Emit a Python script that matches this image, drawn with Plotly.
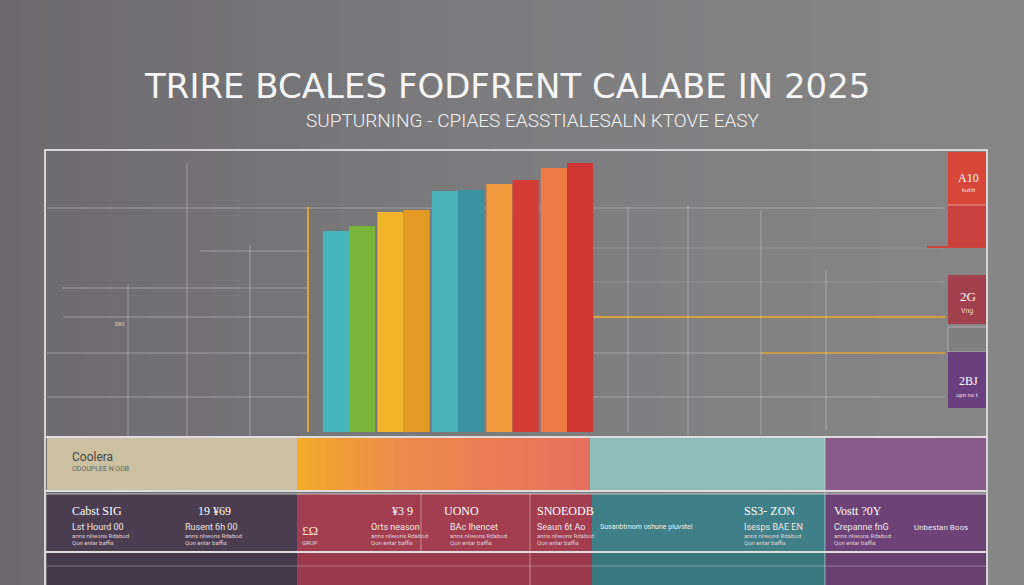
import plotly.graph_objects as go

W, H = 1024, 585

# ---------------- data ----------------
categories = ["2021", "2022", "2023", "2024", "2025"]
left_values = [20.1, 22.0, 24.1, 24.8, 26.4]
right_values = [20.6, 22.2, 24.2, 25.2, 26.9]
left_colors = ["#45b5bb", "#f1b42a", "#49b2b9", "#f1983c", "#ee7a45"]
right_colors = ["#79b53a", "#e39a22", "#3a93a0", "#d23c35", "#cf3532"]

title_text = "TRIRE BCALES FODFRENT CALABE IN 2025"
subtitle_text = "SUPTURNING - CPIAES EASSTIALESALN KTOVE EASY"

side_labels = ["A10", "2G", "2BJ"]
side_sublabels = ["kutiit", "Vng", "upn no t"]

row1_label = "Coolera"
row1_sub = "ODOUPLEE N ODB"
row2_heads = ["Cabst SIG", "19 ¥69", "¥3 9", "UONO", "SNOEODB", "SS3- ZON", "Vostt ?0Y"]
row2_subs = ["Lst Hourd 00", "Rusent 6h 00", "Orts neason", "BAc Ihencet",
             "Seaun 6t Ao", "Isesps BAE EN", "Crepanne fnG"]


def X(p):
    return p / W


def Y(p):
    return 1 - p / H


def hex2rgb(h):
    h = h.lstrip("#")
    return tuple(int(h[i:i + 2], 16) for i in (0, 2, 4))


def lerp(c1, c2, t):
    a, b = hex2rgb(c1), hex2rgb(c2)
    return "rgb(%d,%d,%d)" % tuple(round(a[i] + (b[i] - a[i]) * t) for i in range(3))


shapes = []


def rect(x0, y0, x1, y1, color, line_color=None, lw=0, layer="below"):
    shapes.append(dict(type="rect", xref="paper", yref="paper",
                       x0=X(x0), x1=X(x1), y0=Y(y1), y1=Y(y0),
                       fillcolor=color, layer=layer,
                       line=dict(width=lw, color=line_color or color)))


def hline(y, x0, x1, color, w=1, layer="below"):
    shapes.append(dict(type="line", xref="paper", yref="paper",
                       x0=X(x0), x1=X(x1), y0=Y(y), y1=Y(y), layer=layer,
                       line=dict(color=color, width=w)))


def vline(x, y0, y1, color, w=1, layer="below"):
    shapes.append(dict(type="line", xref="paper", yref="paper",
                       x0=X(x), x1=X(x), y0=Y(y0), y1=Y(y1), layer=layer,
                       line=dict(color=color, width=w)))


# background gradient (strips)
n = 48
for i in range(n):
    t = i / (n - 1)
    if t < 0.5:
        c = lerp("#6c6a6e", "#7d7d7f", t / 0.5)
    else:
        c = lerp("#7d7d7f", "#868686", (t - 0.5) / 0.5)
    rect(i * W / n, 0, (i + 1) * W / n + 1, H, c)

grid = "rgba(225,225,225,0.4)"
orange_line = "#d8a23a"

# horizontal grid
hline(208, 47, 945, grid)
hline(251, 200, 307, grid)
hline(288, 62, 307, grid)
hline(317, 63, 307, grid)
hline(353, 47, 307, grid)
hline(397, 47, 307, grid)
hline(248, 590, 945, "rgba(225,225,225,0.18)")
hline(282, 590, 945, "rgba(225,225,225,0.18)")
hline(353, 590, 761, grid)
hline(397, 590, 945, grid)
hline(317, 590, 945, orange_line, 2)
hline(353, 761, 945, "#c79a4a", 2)
hline(247, 927, 987, "#d0453a", 2)
# vertical grid
vline(128, 284, 437, grid)
vline(187, 163, 437, grid)
vline(250, 245, 437, grid)
vline(308, 207, 432, orange_line, 2)
vline(628, 207, 432, grid)
vline(688, 205, 435, grid)
vline(761, 210, 435, grid)
vline(826, 270, 430, grid)

# right side boxes
rect(948, 152, 987, 205, "#d8463a")
rect(948, 205, 987, 247, "#c9403c")
hline(205, 948, 987, "rgba(255,220,210,0.6)", 1)
rect(948, 275, 987, 324, "#a3404e")
rect(948, 327, 987, 352, "#7f7f80", "rgba(220,220,220,0.5)", 1)
rect(948, 352, 987, 408, "#6a3f80")

# ---------------- table ----------------
rect(47, 437, 297, 490, "#cbc1a2")
m = 30
for i in range(m):
    t = i / (m - 1)
    c = lerp("#f2aa2a", "#ee8a4c", t / 0.35) if t < 0.35 else lerp("#ee8a4c", "#e7705f", (t - 0.35) / 0.65)
    x0 = 297 + (590 - 297) * i / m
    rect(x0, 437, x0 + (590 - 297) / m + 1, 490, c)
rect(590, 437, 825, 490, "#8dbdb8")
rect(825, 437, 987, 490, "#8a5a8c")

rect(47, 494, 297, 552, "#4b3c4f")
rect(297, 494, 592, 552, "#a23e50")
rect(592, 494, 825, 552, "#3f8088")
rect(825, 494, 987, 552, "#6d4277")

rect(47, 553, 297, 585, "#45384a")
rect(297, 553, 592, 585, "#9a3a4c")
rect(592, 553, 825, 585, "#3a7880")
rect(825, 553, 987, 585, "#67406f")

line_c = "#dedcdc"
hline(437, 45, 987, line_c, 2)
hline(491, 45, 987, line_c, 2)
hline(494, 45, 987, "rgba(230,230,230,0.7)", 1)
hline(552, 45, 987, line_c, 2)
hline(566, 47, 987, "rgba(230,230,230,0.35)", 1)
vline(421, 494, 552, "rgba(240,200,200,0.55)", 1)
vline(530, 494, 585, "rgba(240,200,200,0.55)", 1)
vline(825, 437, 585, "rgba(230,220,230,0.6)", 1)

# frame
hline(150, 45, 987, "#d6d4d6", 2)
vline(45, 149, 585, "#d6d4d6", 2)
vline(987, 149, 585, "#d6d4d6", 2)

# ---------------- bars ----------------
fig = go.Figure()
fig.add_trace(go.Bar(x=categories, y=left_values, marker=dict(color=left_colors, line=dict(width=0)),
                     showlegend=False, hoverinfo="skip"))
fig.add_trace(go.Bar(x=categories, y=right_values, marker=dict(color=right_colors, line=dict(width=0)),
                     showlegend=False, hoverinfo="skip"))

ann = []


def text(x, y, s, size, color="#ffffff", family="Roboto", anchor="left", weight=None):
    f = dict(size=size, color=color, family=family)
    if weight:
        f["weight"] = weight
    ann.append(dict(x=X(x), y=Y(y), xref="paper", yref="paper", text=s, showarrow=False,
                    xanchor=anchor, yanchor="middle", font=f))


text(507, 86, title_text, 34, "#f6f6f6", "DejaVu Sans", "center")
text(533, 121, subtitle_text, 19, "#f2f2f2", "Roboto", "center", 300)

# side box labels
text(968, 178, side_labels[0], 12, "#ffffff", "Liberation Serif", "center")
text(968, 190, side_sublabels[0], 6, "#f5dcd8", "Roboto", "center")
text(968, 296, side_labels[1], 13, "#ffffff", "Liberation Serif", "center")
text(967, 311, side_sublabels[1], 7, "#f0d8dc", "Roboto", "center")
text(968, 381, side_labels[2], 12, "#ffffff", "Liberation Serif", "center")
text(967, 394, side_sublabels[2], 6, "#e8dcf0", "Roboto", "center")
text(113, 323, "DKI", 6, "#dddddd")

# table texts
text(70, 457, row1_label, 12, "#4a4644", "Roboto")
text(70, 469, row1_sub, 7, "#6a655c", "Roboto")

head_x = [70, 196, 390, 442, 535, 742, 832]
for hx, s in zip(head_x, row2_heads):
    text(hx, 511, s, 12, "#ffffff", "Liberation Serif")
sub_x = [70, 183, 369, 448, 535, 742, 832]
for sx, s in zip(sub_x, row2_subs):
    text(sx, 527, s, 9, "#f0e6ea", "Roboto")
    text(sx, 535, "anns nliwons Rdabod", 6, "#e0d0d8", "Roboto")
    text(sx, 542, "Qon enlar baffis", 6, "#e0d0d8", "Roboto")
text(300, 530, "£Ω", 13, "#ffe6cc", "Liberation Serif")
text(300, 542, "GRUP", 6, "#f0d0d0")
text(598, 527, "Susanbtrnom oshune pluvstel", 7, "#e8f0f0", "Roboto")
text(912, 527, "Unbestan Boos", 8, "#f0e6f0", "Roboto")

fig.update_layout(
    width=W, height=H,
    margin=dict(l=0, r=0, t=0, b=0),
    paper_bgcolor="#7a7a7c",
    plot_bgcolor="rgba(0,0,0,0)",
    barmode="group",
    bargap=0.04,
    bargroupgap=0.0,
    shapes=shapes,
    annotations=ann,
    xaxis=dict(domain=[X(45), X(987)], type="category",
               range=[(45 - 349) / 54.5, (987 - 349) / 54.5],
               showgrid=False, zeroline=False, showticklabels=False, ticks=""),
    yaxis=dict(domain=[Y(437), Y(150)], range=[-0.5, 28.2],
               showgrid=False, zeroline=False, showticklabels=False, ticks=""),
)

fig.write_html("out.html")
